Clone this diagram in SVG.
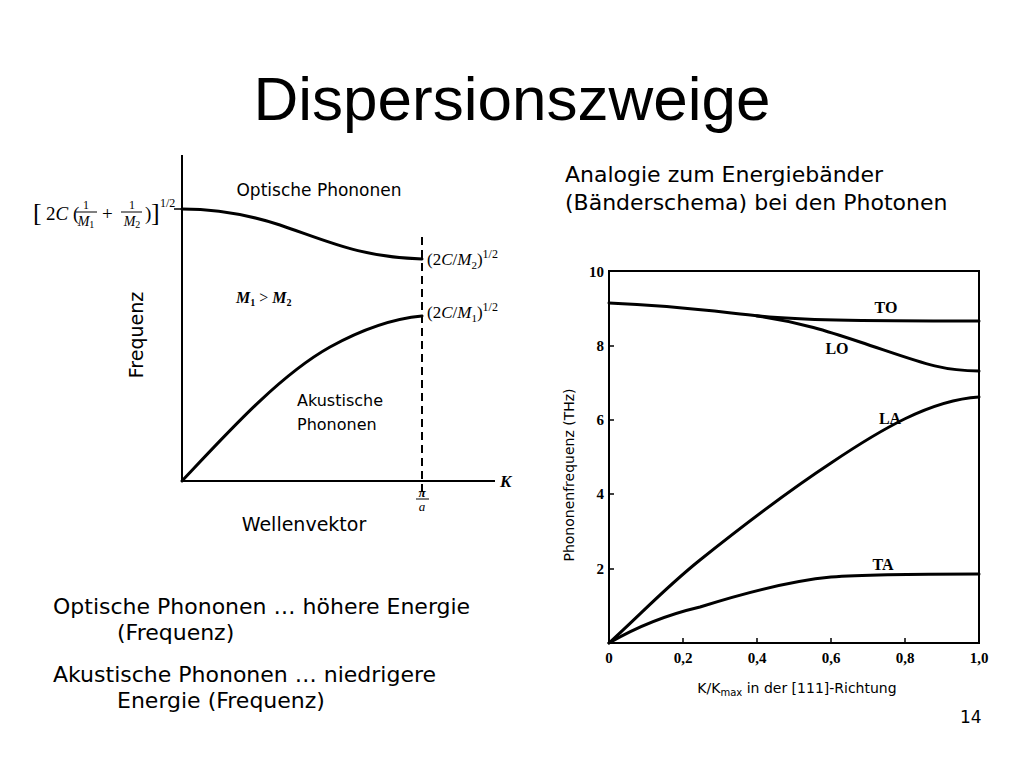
<svg xmlns="http://www.w3.org/2000/svg" width="1024" height="768" viewBox="0 0 1024 768">
<style>
.s{font-family:"DejaVu Sans","Liberation Sans",sans-serif;fill:#000}
.m{font-family:"Liberation Serif","Times New Roman",serif;fill:#000}
.c{fill:none;stroke:#000;stroke-width:3;stroke-linecap:round}
.ax{fill:none;stroke:#000;stroke-width:2}
</style>
<rect width="1024" height="768" fill="#fff"/>
<text x="512" y="120" font-size="62" text-anchor="middle" font-family="Liberation Sans, Arial, sans-serif">Dispersionszweige</text>

<g id="left-plot">
<path class="ax" d="M182 155V481H495"/>
<path d="M174 209H182" stroke="#000" stroke-width="1.5"/>
<line x1="422" y1="237" x2="422" y2="492" stroke="#000" stroke-width="2" stroke-dasharray="8,5"/>
<path class="c" d="M182 209C210 209 240 212 280 225C330 242 360 257 422 259"/>
<path class="c" d="M182 481C230 430 280 375 330 347C370 325 400 318 422 316"/>
<text class="m" x="500" y="487" font-size="17" font-style="italic" font-weight="bold">K</text>
<text class="m" x="422" y="497" font-size="13" font-style="italic" font-weight="bold" text-anchor="middle">π</text>
<line x1="416" y1="499" x2="429" y2="499" stroke="#000" stroke-width="1"/>
<text class="m" x="422" y="511" font-size="13" font-style="italic" text-anchor="middle">a</text>
<text class="m" x="427" y="265" font-size="17">(2<tspan font-style="italic">C</tspan>/<tspan font-style="italic">M</tspan><tspan font-size="11" dy="4">2</tspan><tspan dy="-4">)</tspan><tspan font-size="12" dy="-7">1/2</tspan></text>
<text class="m" x="427" y="318" font-size="17">(2<tspan font-style="italic">C</tspan>/<tspan font-style="italic">M</tspan><tspan font-size="11" dy="4">1</tspan><tspan dy="-4">)</tspan><tspan font-size="12" dy="-7">1/2</tspan></text>
<text class="m" x="236" y="303" font-size="16" font-style="italic" font-weight="bold">M<tspan font-size="10" dy="3" font-style="normal">1</tspan><tspan dy="-3" font-style="normal" font-weight="normal"> &gt; </tspan>M<tspan font-size="10" dy="3" font-style="normal">2</tspan></text>
<text class="s" x="319" y="196" font-size="17" text-anchor="middle">Optische Phononen</text>
<text class="s" x="297" y="406" font-size="16">Akustische</text>
<text class="s" x="297" y="430" font-size="16">Phononen</text>
<text class="s" x="304" y="531" font-size="19" text-anchor="middle">Wellenvektor</text>
<text class="s" font-size="19" text-anchor="middle" transform="translate(143,335) rotate(-90)">Frequenz</text>
<g class="m" font-size="19">
<text x="33" y="221" font-size="26">[</text>
<text x="46" y="220">2<tspan font-style="italic">C</tspan> (</text>
<text x="86" y="209" font-size="12" text-anchor="middle">1</text>
<line x1="76" y1="212" x2="97" y2="212" stroke="#000" stroke-width="1"/>
<text x="86" y="226" font-size="14" font-style="italic" text-anchor="middle">M<tspan font-size="10" font-style="normal" dy="2">1</tspan></text>
<text x="102" y="220">+</text>
<text x="132" y="209" font-size="12" text-anchor="middle">1</text>
<line x1="121" y1="212" x2="142" y2="212" stroke="#000" stroke-width="1"/>
<text x="132" y="226" font-size="14" font-style="italic" text-anchor="middle">M<tspan font-size="10" font-style="normal" dy="2">2</tspan></text>
<text x="145" y="220">)</text>
<text x="151" y="221" font-size="26">]</text>
<text x="160" y="207" font-size="12">1/2</text>
</g>
</g>

<g id="right-text">
<text class="s" x="565" y="182" font-size="22">Analogie zum Energiebänder</text>
<text class="s" x="565" y="210" font-size="22">(Bänderschema) bei den Photonen</text>
</g>

<g id="right-plot">
<rect x="609" y="271" width="370" height="372" fill="none" stroke="#000" stroke-width="2"/>
<g stroke="#000" stroke-width="1.5">
<path d="M609 569h5M609 494h5M609 420h5M609 346h5"/>
<path d="M683 643v-5M757 643v-5M831 643v-5M905 643v-5"/>
</g>
<g class="m" font-size="15" font-weight="bold" text-anchor="end">
<text x="604" y="277">10</text><text x="604" y="351">8</text><text x="604" y="425">6</text><text x="604" y="499">4</text><text x="604" y="574">2</text>
</g>
<g class="m" font-size="15" font-weight="bold" text-anchor="middle">
<text x="609" y="663">0</text><text x="683" y="663">0,2</text><text x="757" y="663">0,4</text><text x="831" y="663">0,6</text><text x="905" y="663">0,8</text><text x="979" y="663">1,0</text>
</g>
<path class="c" d="M609 303C680 306 720 312 760 316C800 320 850 321 979 321"/>
<path class="c" d="M757 316C800 322 830 332 860 342C920 362 940 371 979 371"/>
<path class="c" d="M609 643C640 615 665 588 700 560C750 520 790 490 831 463C880 430 930 400 979 397"/>
<path class="c" d="M609 643C640 625 670 614 700 607C760 588 800 580 831 577C870 574 930 574 979 574"/>
<g class="m" font-size="16" font-weight="bold" text-anchor="middle">
<text x="886" y="313">TO</text><text x="837" y="354">LO</text><text x="890" y="424">LA</text><text x="883" y="570">TA</text>
</g>
<text class="s" font-size="14" text-anchor="middle" transform="translate(574,475) rotate(-90)">Phononenfrequenz (THz)</text>
<text class="s" x="797" y="693" font-size="14" text-anchor="middle">K/K<tspan font-size="10" dy="3">max</tspan><tspan dy="-3"> in der [111]-Richtung</tspan></text>
</g>

<g id="bottom-text" class="s" font-size="22">
<text x="53" y="614">Optische Phononen … höhere Energie</text>
<text x="117" y="640">(Frequenz)</text>
<text x="53" y="682">Akustische Phononen … niedrigere</text>
<text x="117" y="708">Energie (Frequenz)</text>
<text x="960" y="723" font-size="17">14</text>
</g>
</svg>
